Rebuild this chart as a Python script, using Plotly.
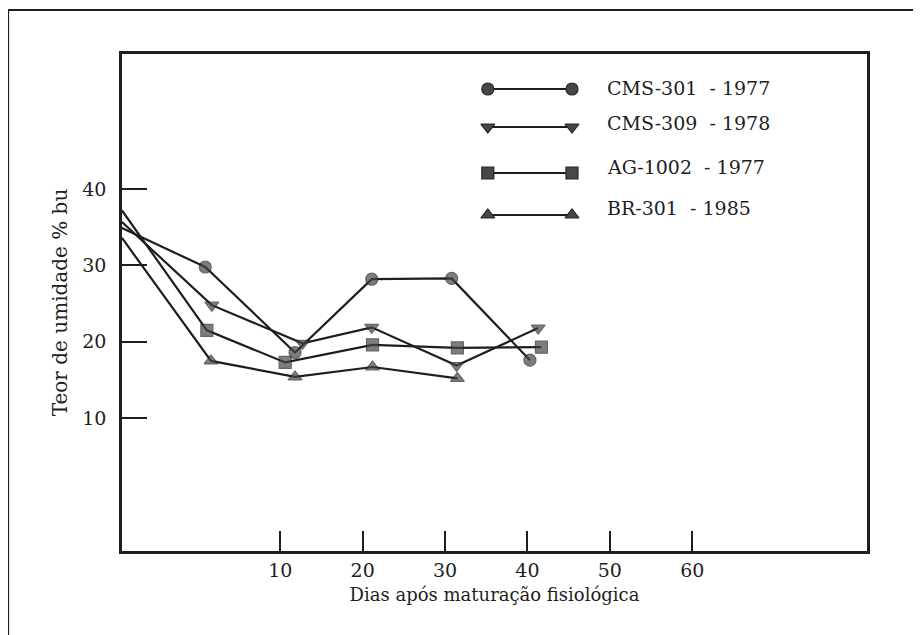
import plotly.graph_objects as go

# ---- data ----
series_names = ["CMS-301\u00a0 - 1977", "CMS-309\u00a0 - 1978", "AG-1002\u00a0 - 1977", "BR-301\u00a0 - 1985"]
symbols = ["circle", "triangle-down", "square", "triangle-up"]

days_cms301 = [-9.2, 0.9, 11.8, 21.1, 30.8, 40.3]
umid_cms301 = [34.9, 29.8, 18.6, 28.2, 28.3, 17.6]

days_cms309 = [-9.2, 1.7, 12.7, 21.1, 31.4, 41.3]
umid_cms309 = [35.7, 24.8, 19.8, 21.9, 16.9, 21.8]

days_ag1002 = [-9.2, 1.1, 10.6, 21.2, 31.5, 41.7]
umid_ag1002 = [37.2, 21.5, 17.3, 19.6, 19.2, 19.3]

days_br301 = [-9.2, 1.6, 11.8, 21.2, 31.5]
umid_br301 = [33.6, 17.5, 15.4, 16.7, 15.2]

x_ticks = [10, 20, 30, 40, 50, 60]
y_ticks = [10, 20, 30, 40]

X_RANGE = [-9.2, 81.2]
Y_RANGE = [-7.4, 57.7]

# ---- style ----
FONT = "DejaVu Serif"
INK = "#1e1e1e"
MARK_FILL = "#474747"
MARK_EDGE = "#262626"
MSIZE = 12

all_x = [days_cms301, days_cms309, days_ag1002, days_br301]
all_y = [umid_cms301, umid_cms309, umid_ag1002, umid_br301]

fig = go.Figure()
for name, sym, xs, ys in zip(series_names, symbols, all_x, all_y):
    sizes = [0] + [MSIZE] * (len(xs) - 1)  # no marker at the axis start
    fig.add_trace(go.Scatter(
        x=xs, y=ys, mode="lines+markers", name=name,
        line=dict(color=INK, width=2.2),
        marker=dict(symbol=sym, size=sizes, color=MARK_FILL,
                    line=dict(color=MARK_EDGE, width=1.2)),
        cliponaxis=False, showlegend=False,
    ))

# ---- hand-drawn legend on a hidden overlay axis (0..1 of plot area) ----
leg_x = [0.491, 0.604]
leg_rows = [0.9296, 0.8531, 0.7606, 0.6761]
leg_text_y = [0.9316, 0.8612, 0.7726, 0.6901]
for name, sym, ry in zip(series_names, symbols, leg_rows):
    fig.add_trace(go.Scatter(
        x=leg_x, y=[ry, ry], xaxis="x2", yaxis="y2", mode="lines+markers",
        line=dict(color=INK, width=2.2),
        marker=dict(symbol=sym, size=MSIZE, color=MARK_FILL,
                    line=dict(color=MARK_EDGE, width=1.2)),
        showlegend=False, hoverinfo="skip",
    ))
for name, ty in zip(series_names, leg_text_y):
    fig.add_annotation(x=0.648, y=ty, xref="paper", yref="paper", text=name,
                       showarrow=False, xanchor="left", yanchor="middle",
                       font=dict(family=FONT, size=19, color=INK))

# outer frame (top and left edges of the scanned page frame)
fig.add_shape(type="line", xref="paper", yref="paper", x0=-0.153, y0=1.0885, x1=1.2, y1=1.0885,
              line=dict(color=INK, width=2.2))
fig.add_shape(type="line", xref="paper", yref="paper", x0=-0.153, y0=1.0885, x1=-0.153, y1=-0.3,
              line=dict(color=INK, width=2.2))

# page body has an 8px margin, so the figure is sized to fit the 921x635 window
fig.update_layout(
    width=913, height=627,
    margin=dict(l=114, r=54, t=46, b=84),
    paper_bgcolor="white", plot_bgcolor="white",
    font=dict(family=FONT, size=19, color=INK),
    xaxis=dict(range=X_RANGE, tickvals=x_ticks, ticks="inside", ticklen=20, tickwidth=2,
               tickcolor=INK, showline=True, linecolor=INK, linewidth=2.5, mirror=True,
               showgrid=False, zeroline=False, ticklabelstandoff=0,
               tickfont=dict(family=FONT, size=19, color=INK),
               title=dict(text="Dias após maturação fisiológica", standoff=9,
                          font=dict(family=FONT, size=18, color=INK))),
    yaxis=dict(range=Y_RANGE, tickvals=y_ticks, ticks="inside", ticklen=25, tickwidth=2,
               tickcolor=INK, showline=True, linecolor=INK, linewidth=2.5, mirror=True,
               showgrid=False, zeroline=False, ticklabelstandoff=9,
               tickfont=dict(family=FONT, size=19, color=INK),
               title=dict(text="Teor de umidade % bu", standoff=10,
                          font=dict(family=FONT, size=20, color=INK))),
    xaxis2=dict(range=[0, 1], overlaying="x", visible=False),
    yaxis2=dict(range=[0, 1], overlaying="y", visible=False),
)

fig.write_html("out.html")
